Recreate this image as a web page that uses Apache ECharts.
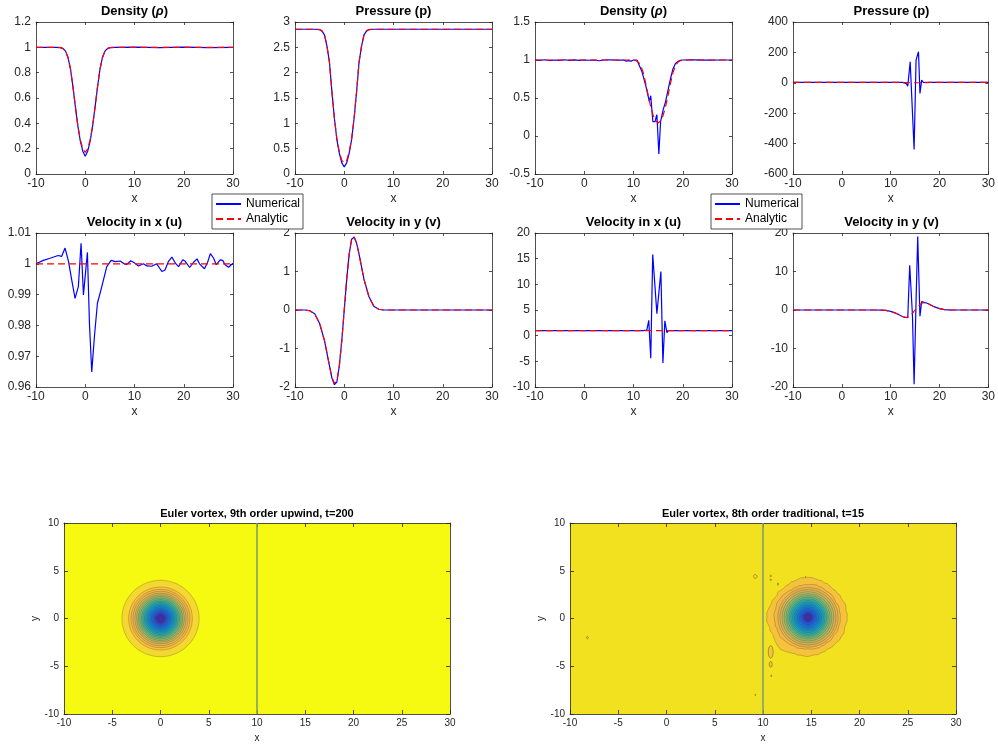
<!DOCTYPE html>
<html><head><meta charset="utf-8">
<script src="https://cdn.jsdelivr.net/npm/echarts@6/dist/echarts.min.js"></script>
<style>html,body{margin:0;padding:0;background:#fff}#c{width:998px;height:747px}</style>
</head><body><div id="c"></div>
<script>
// ---------------- data ----------------
const panelTitles = ['{b|Density (}{i|ρ}{b|)}','{b|Pressure (p)}','{b|Density (}{i|ρ}{b|)}','{b|Pressure (p)}',
  '{b|Velocity in x (u)}','{b|Velocity in y (v)}','{b|Velocity in x (u)}','{b|Velocity in y (v)}'];
const contourTitles = ['Euler vortex, 9th order upwind, t=200','Euler vortex, 8th order traditional, t=15'];
const legendNames = ['Numerical','Analytic'];

const xRangeTop = [-10, 30, 10];
const yRanges = [[0,1.2,0.2],[0,3,0.5],[-0.5,1.5,0.5],[-600,400,200],[0.96,1.01,0.01],[-2,2,1],[-10,20,5],[-20,20,10]];
const xRangeContour = [-10, 30, 5];
const yRangeContour = [-10, 10, 5];

const density1Analytic = [[-10,1],[-6,1],[-5,0.998],[-4.5,0.99],[-4,0.97],[-3.5,0.92],[-3,0.83],[-2.5,0.69],[-2,0.53],[-1.5,0.38],[-1,0.27],[-0.5,0.2],[0,0.17],[0.5,0.2],[1,0.27],[1.5,0.38],[2,0.53],[2.5,0.69],[3,0.83],[3.5,0.92],[4,0.97],[4.5,0.99],[5,0.998],[6,1],[30,1]];
const density1Numerical = [[-10,1],[-6,1],[-5,0.998],[-4.5,0.99],[-4,0.97],[-3.5,0.92],[-3,0.83],[-2.5,0.69],[-2,0.53],[-1.5,0.38],[-1,0.26],[-0.5,0.18],[0,0.14],[0.5,0.18],[1,0.26],[1.5,0.38],[2,0.53],[2.5,0.69],[3,0.83],[3.5,0.92],[4,0.97],[4.5,0.99],[5,0.998],[6,1],[10,1.002],[15,0.998],[20,1.002],[25,0.998],[30,1]];

const pressure1Analytic = [[-10,2.857],[-6,2.857],[-5,2.85],[-4.5,2.82],[-4,2.74],[-3.5,2.52],[-3,2.2],[-2.5,1.62],[-2,1.1],[-1.5,0.7],[-1,0.43],[-0.5,0.27],[0,0.22],[0.5,0.27],[1,0.43],[1.5,0.7],[2,1.1],[2.5,1.62],[3,2.2],[3.5,2.52],[4,2.74],[4.5,2.82],[5,2.85],[6,2.857],[30,2.857]];
const pressure1Numerical = [[-10,2.857],[-6,2.857],[-5,2.85],[-4.5,2.82],[-4,2.74],[-3.5,2.52],[-3,2.2],[-2.5,1.62],[-2,1.1],[-1.5,0.68],[-1,0.41],[-0.5,0.22],[0,0.14],[0.5,0.22],[1,0.41],[1.5,0.68],[2,1.1],[2.5,1.62],[3,2.2],[3.5,2.52],[4,2.74],[4.5,2.82],[5,2.85],[6,2.857],[30,2.857]];

const density2Analytic = [[-10,1],[9,1],[10,0.998],[10.5,0.99],[11,0.97],[11.5,0.92],[12,0.83],[12.5,0.69],[13,0.53],[13.5,0.38],[14,0.27],[14.5,0.2],[15,0.17],[15.5,0.2],[16,0.27],[16.5,0.38],[17,0.53],[17.5,0.69],[18,0.83],[18.5,0.92],[19,0.97],[19.5,0.99],[20,0.998],[21,1],[30,1]];
const density2Numerical = [[-10,1],[-9,0.995],[-8,1.003],[-7,0.993],[-6,1],[-5,0.994],[-4,1.003],[-3,0.995],[-2,1.002],[-1,0.996],[0,1],[1,0.997],[2,1],[3,0.99],[4,1],[5,1.003],[6,1],[7,0.998],[8,1],[8.5,0.985],[9,0.992],[9.5,0.985],[10,1],[10.7,1],[11,0.99],[11.7,0.85],[12.5,0.66],[13.2,0.46],[13.5,0.53],[13.8,0.53],[13.93,0.19],[14.4,0.19],[14.6,0.25],[14.75,0.28],[15.15,-0.237],[15.5,0.19],[16,0.34],[16.5,0.45],[17,0.6],[17.5,0.75],[18,0.88],[18.5,0.95],[19,0.98],[19.5,0.995],[20,1],[22,1.002],[25,0.998],[28,1],[30,1]];

const pressure2Analytic = [[-10,2.857],[9,2.857],[10,2.85],[10.5,2.82],[11,2.74],[11.5,2.52],[12,2.2],[12.5,1.62],[13,1.1],[13.5,0.7],[14,0.43],[14.5,0.27],[15,0.22],[15.5,0.27],[16,0.43],[16.5,0.7],[17,1.1],[17.5,1.62],[18,2.2],[18.5,2.52],[19,2.74],[19.5,2.82],[20,2.85],[21,2.857],[30,2.857]];
const pressure2Numerical = [[-10,2.86],[12.5,2.86],[13.2,-5],[13.5,-22],[14,138],[14.8,-439],[15.2,149],[15.7,204],[16,-70],[16.35,18],[16.7,2],[17.2,2.86],[30,2.86]];

const velocityU1Analytic = [[-10,1],[30,1]];
const velocityU1Numerical = [[-10,1.0],[-8.5,1.0011],[-7.15,1.0018],[-5.5,1.0027],[-4.8,1.0024],[-4.1,1.0051],[-3.4,1.0008],[-2.75,0.9948],[-2.07,0.9888],[-1.4,0.9926],[-0.85,1.0067],[-0.37,0.9899],[0.44,1.0037],[0.85,0.9807],[1.32,0.9649],[1.86,0.9763],[2.47,0.9872],[3.36,0.9926],[4.37,0.9991],[5.25,1.0011],[6.07,1.0007],[7.08,1.0009],[7.9,1.0],[8.44,0.9998],[9.25,1.001],[10.1,1.0002],[10.8,0.9993],[11.83,1.0],[12.5,0.9993],[13.5,0.9992],[14.5,1.0],[15.56,0.9975],[16.2,0.998],[16.9,1.0008],[17.6,1.0022],[18.3,1.0002],[18.95,0.9991],[19.8,1.0013],[20.3,1.0008],[21.2,0.9988],[22.0,1.0005],[22.7,1.0016],[23.2,1.0],[24.2,0.9984],[24.85,1.0005],[25.4,1.0033],[26.07,1.0018],[26.6,0.9997],[27.4,1.0013],[27.9,1.0011],[28.4,0.9997],[29.1,0.9989],[30,1.0002]];

const velocityV1Analytic = [[-10,0],[-8,0],[-7,-0.02],[-6,-0.1],[-5,-0.35],[-4,-0.8],[-3,-1.45],[-2.5,-1.75],[-2,-1.9],[-1.5,-1.85],[-1,-1.45],[-0.5,-0.8],[0,0],[0.5,0.8],[1,1.45],[1.5,1.85],[2,1.9],[2.5,1.75],[3,1.45],[4,0.8],[5,0.35],[6,0.1],[7,0.02],[8,0],[30,0]];
const velocityV1Numerical = [[-10,0],[-8,0],[-7,-0.02],[-6,-0.1],[-5,-0.35],[-4,-0.8],[-3,-1.45],[-2.5,-1.77],[-2,-1.94],[-1.5,-1.87],[-1,-1.45],[-0.5,-0.8],[0,0],[0.5,0.8],[1,1.45],[1.5,1.84],[2,1.89],[2.5,1.74],[3,1.45],[4,0.8],[5,0.35],[6,0.1],[7,0.02],[8,0],[30,0]];

const velocityU2Analytic = [[-10,1],[30,1]];
const velocityU2Numerical = [[-10,1],[12,1],[12.37,0.8],[12.7,1.1],[13.1,3.0],[13.5,-4.4],[13.9,15.8],[14.75,4.3],[15.56,12.5],[15.97,-5.3],[16.37,2.9],[16.78,0.6],[17.1,1],[30,1]];

const velocityV2Analytic = [[-10,0],[7,0],[8,-0.02],[9,-0.1],[10,-0.35],[11,-0.8],[12,-1.45],[12.5,-1.75],[13,-1.9],[13.5,-1.85],[14,-1.45],[14.5,-0.8],[15,0],[15.5,0.8],[16,1.45],[16.5,1.85],[17,1.9],[17.5,1.75],[18,1.45],[19,0.8],[20,0.35],[21,0.1],[22,0.02],[23,0],[30,0]];
const velocityV2Numerical = [[-10,0],[7,0],[8,-0.02],[9,-0.1],[10,-0.35],[11,-0.8],[12,-1.45],[12.5,-1.75],[13,-1.9],[13.5,-2.0],[13.9,11.6],[14.46,-1.3],[14.8,-19.3],[15.2,2.2],[15.54,19.1],[16,-1.6],[16.35,2.2],[16.7,1.95],[17,1.9],[17.5,1.75],[18,1.45],[19,0.8],[20,0.35],[21,0.1],[22,0.02],[23,0],[30,0]];

const numericalSets = [density1Numerical, pressure1Numerical, density2Numerical, pressure2Numerical, velocityU1Numerical, velocityV1Numerical, velocityU2Numerical, velocityV2Numerical];
const analyticSets = [density1Analytic, pressure1Analytic, density2Analytic, pressure2Analytic, velocityU1Analytic, velocityV1Analytic, velocityU2Analytic, velocityV2Analytic];

// contour panels
const boundaryLine = [[10,-10],[10,10]];
const vortex1Center = [0, 0];
const vortex1Radii = [4.0, 3.3, 3.05, 2.85, 2.65, 2.47, 2.3, 2.14, 1.98, 1.83, 1.68, 1.53, 1.38, 1.23, 1.08, 0.93, 0.78, 0.62, 0.45];
const vortex1Colors = ['#f4d831','#fabf3c','#f4b747','#e4b44e','#ccb457','#b0b761','#92b96c','#72ba7b','#52b78f','#37b2a3','#23aab6','#18a0c6','#1594d0','#1487d7','#1679dc','#1c6bdf','#265ade','#3446cc','#3c30a0'];
const vortex2Center = [14.66, 0.12];
const vortex2OuterRadii = [4.05,4.1,4.0,4.08,4.12,4.02,3.98,4.05,3.95,4.0,3.92,4.0,4.05,4.0,4.1,4.05,4.12,4.18,4.2,4.15,4.22,4.12,4.05,4.1,3.98,4.02,3.95,4.0,4.08,3.95,4.02,4.1,4.05,4.15,4.22,4.3,4.25,4.32,4.2,4.1,4.18,4.05,4.12,4.2,4.28,4.35,4.4,4.3,4.2,4.12,4.05,4.1,4.02,4.08,4.1,4.02,3.98,4.05,3.95,3.98,3.9,3.95,4.0,3.92,3.98,4.05,4.0,4.08,4.02,3.95,4.02,4.08];
const vortex2SecondRadii = [3.35,3.38,3.32,3.36,3.4,3.35,3.3,3.36,3.4,3.42,3.38,3.35,3.4,3.45,3.42,3.48,3.5,3.45,3.42,3.46,3.4,3.44,3.38,3.4,3.35,3.4,3.42,3.45,3.5,3.48,3.52,3.55,3.5,3.45,3.5,3.55,3.5,3.48,3.45,3.5,3.42,3.45,3.48,3.52,3.5,3.45,3.4,3.42,3.38,3.35,3.4,3.36,3.32,3.35,3.3,3.34,3.38,3.35,3.4,3.32,3.36,3.3,3.35,3.38,3.32,3.3,3.36,3.4,3.35,3.32,3.38,3.36];
const vortex2Radii = [3.12, 2.9, 2.68, 2.47, 2.28, 2.1, 1.93, 1.77, 1.6, 1.43, 1.27, 1.1, 0.93, 0.76, 0.58, 0.4];
const vortex2Colors = ['#f6c23c','#f2b646','#e6b24d','#d2b255','#b8b55f','#9ab86a','#7bb977','#5ab88a','#3db39e','#27acb2','#1aa2c3','#1596ce','#1489d6','#157bdb','#1a6cdf','#245ce0','#3046d0','#3b309e'];
const vortex2Specks = [[9.2,4.4,0.18,0.2,0],[10.8,4.45,0.08,0.08,0],[10.8,4.05,0.1,0.05,0],[11.55,3.6,0.05,0.12,0],[10.8,-3.5,0.25,0.65,1],[10.8,-4.8,0.15,0.3,1],[-8.2,-2.0,0.1,0.12,0],[9.2,-8.0,0.06,0.06,0],[10.85,-6.0,0.03,0.1,0],[14.4,4.35,0.05,0.05,0]];
const speckColors = ['#f2df20','#f4c53c'];
const background1 = '#f6f910';
const background2 = '#f2e11e';

// ---------------- layout ----------------
const FONT = '"Liberation Sans", Arial, Helvetica, sans-serif';
const AX = '#262626';
const gridBoxes = [
  {left:36,top:22,width:197,height:152},{left:295,top:22,width:197,height:152},{left:535,top:22,width:197,height:152},{left:793,top:22,width:197,height:152},
  {left:36,top:233,width:197,height:154},{left:295,top:233,width:197,height:154},{left:535,top:233,width:197,height:154},{left:793,top:233,width:197,height:154},
  {left:64,top:523,width:386,height:191},{left:570,top:523,width:386,height:191}
];

const grid = gridBoxes.map((b,i)=>Object.assign({containLabel:false, show: i>=8, backgroundColor: i===8?background1:(i===9?background2:'transparent'), borderWidth:0}, b));
const xAxis = [], yAxis = [];
function addAxes(gi, xr, yr, fs, tl, yName){
  const base = (pos, show) => ({
    gridIndex: gi, type:'value', position: pos,
    axisLine:{show:true, onZero:false, lineStyle:{color:AX, width:0.8}},
    axisTick:{show:true, inside:true, length:tl, lineStyle:{color:AX, width:0.8}},
    axisLabel:{show:show, color:AX, fontSize:fs, fontFamily:FONT, margin:5, showMinLabel:true, showMaxLabel:true},
    splitLine:{show:false}
  });
  const xb = Object.assign(base('bottom', true), {min:xr[0], max:xr[1], interval:xr[2], name:'x', nameLocation:'middle', nameGap:19, nameTextStyle:{color:AX, fontSize:fs, fontFamily:FONT}});
  xb.axisLabel.margin = 4;
  const xt = Object.assign(base('top', false), {min:xr[0], max:xr[1], interval:xr[2]});
  const yl = Object.assign(base('left', true), {min:yr[0], max:yr[1], interval:yr[2]});
  if (yName) Object.assign(yl, {name:yName, nameLocation:'middle', nameGap:13, nameTextStyle:{color:AX, fontSize:fs, fontFamily:FONT}});
  const yr2 = Object.assign(base('right', false), {min:yr[0], max:yr[1], interval:yr[2]});
  xAxis.push(xb, xt); yAxis.push(yl, yr2);
}
for (let i=0;i<8;i++) addAxes(i, xRangeTop, yRanges[i], 12, 3, null);
addAxes(8, xRangeContour, yRangeContour, 10, 4, 'y');
addAxes(9, xRangeContour, yRangeContour, 10, 4, 'y');

const series = [];
for (let i=0;i<8;i++){
  series.push({name:legendNames[0], type:'line', xAxisIndex:2*i, yAxisIndex:2*i, data:numericalSets[i], showSymbol:false, symbol:'none', lineStyle:{color:'#0000ff', width:1.2}, itemStyle:{color:'#0000ff'}, z:2, silent:true});
  series.push({name:legendNames[1], type:'line', xAxisIndex:2*i, yAxisIndex:2*i, data:analyticSets[i], showSymbol:false, symbol:'none', lineStyle:{color:'#ff0000', width:1.2, type:[7,4]}, itemStyle:{color:'#ff0000'}, z:3, silent:true});
}

const STROKE = 'rgba(60,50,35,0.5)';
function ringRenderer(colors, shapes){
  return function(params, api){
    const cx = api.value(0), cy = api.value(1), r = api.value(2), ci = api.value(3), si = api.value(4);
    const shape = si >= 0 ? shapes[si] : null;
    const n = shape ? shape.length : 90;
    const pts = [];
    for (let k=0;k<n;k++){
      const a = 2*Math.PI*k/n;
      const rr = shape ? shape[k] : r;
      pts.push(api.coord([cx + rr*Math.cos(a), cy + rr*Math.sin(a)]));
    }
    return {type:'polygon', shape:{points:pts}, style:{fill:colors[ci], stroke:STROKE, lineWidth:0.5}};
  };
}
function speckRenderer(params, api){
  const cx = api.value(0), cy = api.value(1), rx = api.value(2), ry = api.value(3), ci = api.value(4);
  const pts = [];
  for (let k=0;k<24;k++){ const a = 2*Math.PI*k/24; pts.push(api.coord([cx+rx*Math.cos(a), cy+ry*Math.sin(a)])); }
  return {type:'polygon', shape:{points:pts}, style:{fill:speckColors[ci], stroke:'rgba(60,50,35,0.7)', lineWidth:0.6}};
}
const v1Data = vortex1Radii.map((r,i)=>[vortex1Center[0], vortex1Center[1], r, i, -1]);
const v2Data = [[vortex2Center[0], vortex2Center[1], 4.1, 0, 0],[vortex2Center[0], vortex2Center[1], 3.4, 1, 1]]
  .concat(vortex2Radii.map((r,i)=>[vortex2Center[0], vortex2Center[1], r, i+2, -1]));

series.push({type:'line', xAxisIndex:16, yAxisIndex:16, data:boundaryLine, showSymbol:false, symbol:'none', lineStyle:{color:'#80a070', width:1.6}, silent:true, z:2});
series.push({type:'custom', xAxisIndex:16, yAxisIndex:16, data:v1Data, renderItem:ringRenderer(vortex1Colors, []), clip:true, silent:true, z:3});
series.push({type:'line', xAxisIndex:18, yAxisIndex:18, data:boundaryLine, showSymbol:false, symbol:'none', lineStyle:{color:'#80a070', width:1.6}, silent:true, z:2});
series.push({type:'custom', xAxisIndex:18, yAxisIndex:18, data:v2Data, renderItem:ringRenderer(vortex2Colors, [vortex2OuterRadii, vortex2SecondRadii]), clip:true, silent:true, z:3});
series.push({type:'custom', xAxisIndex:18, yAxisIndex:18, data:vortex2Specks, renderItem:speckRenderer, clip:true, silent:true, z:4});

const titleCenters = [[134.5,5],[393.5,5],[633.5,5],[891.5,5],[134.5,216],[393.5,216],[633.5,216],[891.5,216]];
const richStyle = {b:{fontSize:13, fontWeight:'bold', fontFamily:FONT, color:'#000'}, i:{fontSize:13, fontStyle:'italic', fontFamily:FONT, color:'#000'}};
const title = panelTitles.map((t,i)=>({text:t, left:titleCenters[i][0], top:titleCenters[i][1], textAlign:'center', padding:0, textStyle:{fontSize:13, fontWeight:'bold', fontFamily:FONT, color:'#000', rich:richStyle}}));
title.push({text:contourTitles[0], left:257, top:508, textAlign:'center', padding:0, textStyle:{fontSize:11, fontWeight:'bold', fontFamily:FONT, color:'#000'}});
title.push({text:contourTitles[1], left:763, top:508, textAlign:'center', padding:0, textStyle:{fontSize:11, fontWeight:'bold', fontFamily:FONT, color:'#000'}});

const legendBase = {top:194, orient:'vertical', data:legendNames, itemWidth:25, itemHeight:10, itemGap:3, padding:[4,3,4,3], borderColor:AX, borderWidth:0.8, backgroundColor:'#fff', selectedMode:false,
  itemStyle:{opacity:0, borderWidth:0}, lineStyle:{opacity:1},
  textStyle:{fontSize:12, fontFamily:FONT, color:'#000'}};
const legend = [Object.assign({left:212}, legendBase), Object.assign({left:711}, legendBase)];

const chart = echarts.init(document.getElementById('c'), null, {renderer:'canvas'});
chart.setOption({animation:false, backgroundColor:'#fff', title, legend, grid, xAxis, yAxis, series});
</script></body></html>
